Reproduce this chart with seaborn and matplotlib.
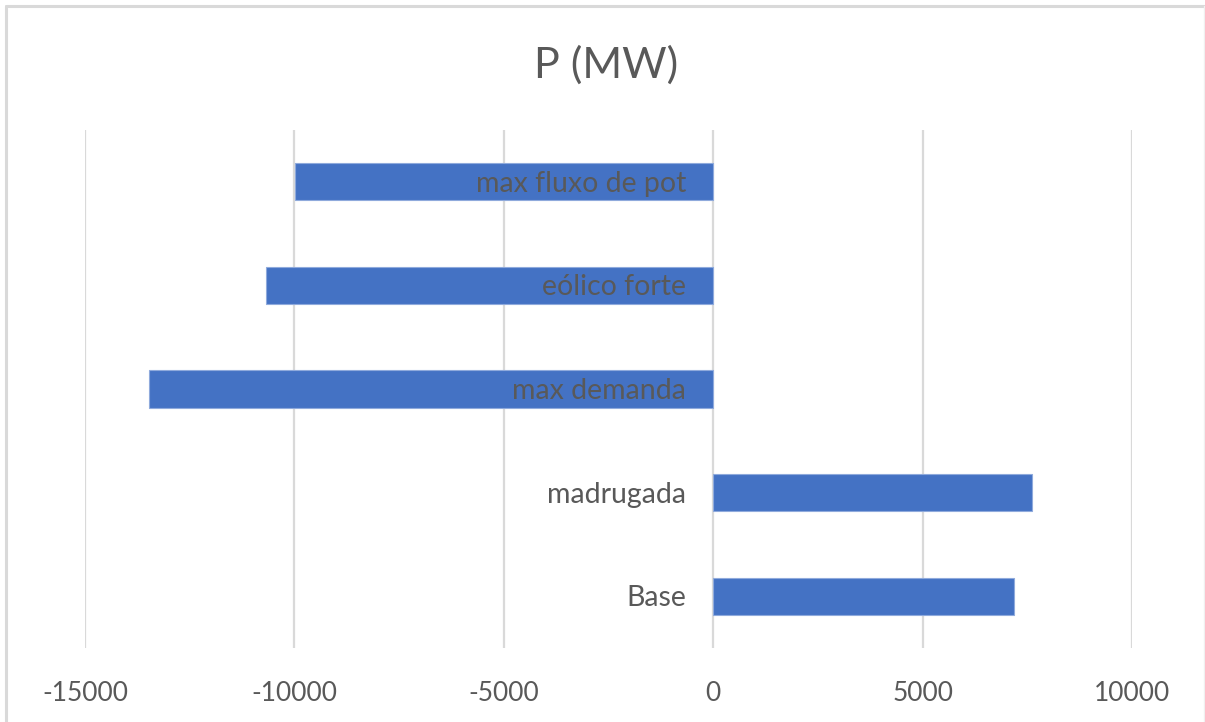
import matplotlib
matplotlib.use("Agg")
import matplotlib.pyplot as plt
import matplotlib.transforms as mtransforms
import seaborn as sns
import pandas as pd

# Active power per operating scenario (MW)
cenarios = ["max fluxo de pot", "eólico forte", "max demanda", "madrugada", "Base"]
potencia_mw = [-9990, -10670, -13460, 7610, 7190]
x_ticks = [-15000, -10000, -5000, 0, 5000, 10000]

sns.set_theme(style="white")
plt.rcParams["font.family"] = ["Lato", "DejaVu Sans"]

texto = "#595959"
grade = "#d9d9d9"
azul = "#4472C4"

df = pd.DataFrame({"cenario": cenarios, "P": potencia_mw})

fig = plt.figure(figsize=(12.05, 7.22), dpi=100)
ax = fig.add_axes([85 / 1205, 1 - 648 / 722, (1132 - 85) / 1205, (648 - 130) / 722])

sns.barplot(data=df, x="P", y="cenario", order=cenarios, color=azul,
            width=0.36, saturation=1, edgecolor="#8faadc", linewidth=0.8,
            ax=ax, zorder=3)

ax.set_xlim(-15000, 10000)
ax.set_ylim(4.5, -0.5)
ax.set_xticks(x_ticks)
ax.set_xticklabels([str(v) for v in x_ticks], fontsize=19, color=texto)
ax.tick_params(axis="x", length=0, pad=24)
ax.set_yticks([])
ax.set_xlabel("")
ax.set_ylabel("")
for s in ax.spines.values():
    s.set_visible(False)
ax.grid(axis="x", color=grade, linewidth=1.6, zorder=0)
ax.set_axisbelow(True)

# Category names sit just left of the zero line
off = mtransforms.offset_copy(ax.transData, fig=fig, x=-27, y=-2, units="dots")
for i, nome in enumerate(cenarios):
    ax.text(0, i, nome, transform=off, ha="right", va="center",
            fontsize=20.5, color=texto, zorder=5)

fig.text(606 / 1205, 1 - 65 / 722, "P (MW)", ha="center", va="center",
         fontsize=31, color=texto)

# Chart frame
fig.add_artist(plt.Line2D([6 / 1205, 6 / 1205], [0, 1 - 6 / 722],
                          transform=fig.transFigure, color=grade, linewidth=2.2))
fig.add_artist(plt.Line2D([6 / 1205, 1], [1 - 6 / 722, 1 - 6 / 722],
                          transform=fig.transFigure, color=grade, linewidth=2.2))
fig.add_artist(plt.Line2D([1204 / 1205, 1204 / 1205], [0, 1 - 6 / 722],
                          transform=fig.transFigure, color="#f0f0f0", linewidth=1))

fig.savefig("out.png", dpi=100, facecolor="white")
